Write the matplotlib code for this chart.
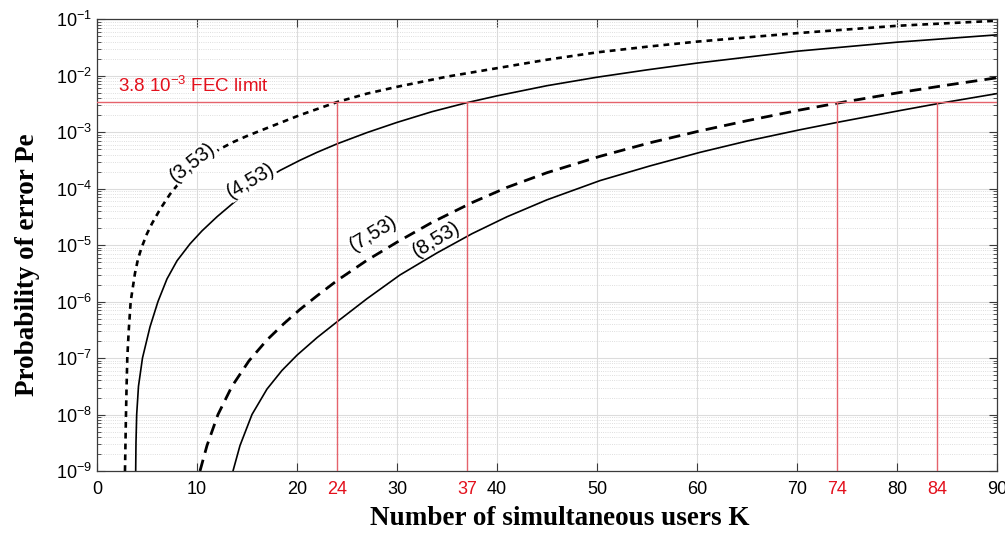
import numpy as np
import matplotlib
matplotlib.use("Agg")
import matplotlib.pyplot as plt
from matplotlib.ticker import LogLocator, NullFormatter

plt.rcParams['font.family'] = ['Liberation Sans', 'DejaVu Sans']
plt.rcParams['mathtext.fontset'] = 'custom'
plt.rcParams['mathtext.rm'] = 'Liberation Sans'
plt.rcParams['mathtext.it'] = 'Liberation Sans:italic'

# curves: users K and log10 of the probability of error
k_3_53 = [2.8, 2.85, 2.9, 2.96, 3.03, 3.18, 3.37, 3.8, 4.1, 4.45, 5.0, 5.5, 6.3, 7.3, 8.5, 10,
          12.3, 13.6, 15, 17, 20.3, 24, 27, 30, 35, 40, 45, 50, 55, 60, 70, 80, 90]
lg_3_53 = [-9, -8.5, -8, -7.5, -7, -6.5, -6, -5.5, -5.25, -5.05, -4.8, -4.62, -4.37, -4.1, -3.84, -3.56,
           -3.3, -3.18, -3.07, -2.93, -2.70, -2.47, -2.32, -2.2, -2.02, -1.87, -1.72, -1.59, -1.49, -1.40,
           -1.25, -1.12, -1.03]

k_4_53 = [3.87, 3.9, 3.97, 4.15, 4.55, 5.3, 6.1, 7.0, 8.0, 9.3, 10.5, 12, 14, 16, 18.3, 20.3, 22, 24,
          27, 30, 33.5, 37, 40, 45, 50, 55, 60, 70, 80, 90]
lg_4_53 = [-9, -8.5, -8, -7.5, -7, -6.45, -6.0, -5.6, -5.28, -4.98, -4.75, -4.5, -4.2, -3.93, -3.68,
           -3.50, -3.36, -3.21, -3.01, -2.83, -2.64, -2.48, -2.36, -2.18, -2.03, -1.9, -1.78, -1.57,
           -1.41, -1.28]

k_7_53 = [10.3, 11.0, 12.1, 13.5, 15.2, 17, 18.7, 20.3, 22, 24, 27, 30, 33.5, 37.5, 41, 45, 50.3,
          55.3, 60.3, 65, 70.3, 74, 80.3, 85, 90]
lg_7_53 = [-9, -8.55, -8.0, -7.5, -7.05, -6.68, -6.39, -6.14, -5.9, -5.63, -5.27, -4.95, -4.6, -4.25,
           -3.98, -3.72, -3.43, -3.19, -2.98, -2.8, -2.61, -2.49, -2.30, -2.17, -2.04]

k_8_53 = [13.6, 14.3, 15.5, 17, 18.5, 20, 22, 24, 27, 30.3, 34, 37.5, 41, 45, 50.3, 55.3, 60.3, 65,
          70.3, 74.3, 80.3, 84, 90]
lg_8_53 = [-9, -8.55, -8.0, -7.55, -7.22, -6.95, -6.64, -6.36, -5.95, -5.53, -5.14, -4.80, -4.5, -4.2,
           -3.86, -3.6, -3.36, -3.16, -2.96, -2.82, -2.62, -2.50, -2.32]

fec_limit = 3.4e-3          # where the red line sits in the figure
fec_users = [24, 37, 74, 84]
x_ticks = [0, 10, 20, 30, 40, 50, 60, 70, 80, 90]

# labels: text, K, Pe, angle
curve_labels = [("(3,53)", 9.6, 2.9e-4, 38),
                ("(4,53)", 15.4, 1.35e-4, 30),
                ("(7,53)", 27.6, 1.6e-5, 31),
                ("(8,53)", 33.9, 1.25e-5, 31)]

RED_LINE = '#e5636c'
RED_TEXT = '#e3101c'
SERIF = ['Liberation Serif', 'DejaVu Serif']

fig = plt.figure(figsize=(10.05, 5.33), dpi=100)
ax = fig.add_axes([0.0965, 0.1163, 0.8955, 0.848])

ax.plot(k_3_53, 10.0 ** np.array(lg_3_53), color='k', lw=1.9, linestyle=(0, (2.2, 1.9)))
ax.plot(k_4_53, 10.0 ** np.array(lg_4_53), color='k', lw=1.2)
ax.plot(k_7_53, 10.0 ** np.array(lg_7_53), color='k', lw=2.0, linestyle=(0, (4.2, 2.6)))
ax.plot(k_8_53, 10.0 ** np.array(lg_8_53), color='k', lw=1.2)

ax.axhline(fec_limit, color=RED_LINE, lw=1.0, zorder=3)
ax.vlines(fec_users, 1e-9, fec_limit, color=RED_LINE, lw=1.0, zorder=3)

for txt, kx, py, ang in curve_labels:
    ax.text(kx, py, txt, fontsize=14.5, rotation=ang, ha='center', va='center',
            rotation_mode='anchor', zorder=4,
            bbox=dict(facecolor='white', edgecolor='none', pad=0.3))

ax.text(2.1, 4.3e-3, r'3.8 10$^{-3}$ FEC limit', color=RED_TEXT, fontsize=13.5,
        ha='left', va='bottom')

ax.set_yscale('log')
ax.set_xlim(0, 90)
ax.set_ylim(1e-9, 1e-1)

ax.set_xticks(x_ticks)
ax.set_xticks(fec_users, minor=True)
ax.set_xticklabels([str(v) for v in fec_users], minor=True, color=RED_TEXT)
ax.tick_params(axis='x', which='minor', length=0, labelsize=13, pad=7)
ax.tick_params(axis='x', which='major', labelsize=13, pad=7)

ax.yaxis.set_major_locator(LogLocator(base=10, numticks=20))
ax.yaxis.set_minor_locator(LogLocator(base=10, subs=np.arange(2, 10), numticks=20))
ax.yaxis.set_minor_formatter(NullFormatter())
ax.tick_params(axis='y', which='major', labelsize=13)

ax.tick_params(which='both', direction='in', top=True, right=True, color='#3a3a3a')
ax.tick_params(which='major', length=6)
ax.tick_params(axis='y', which='minor', length=3)

ax.grid(True, which='major', axis='both', color='#dcdcdc', lw=0.8)
ax.grid(True, which='minor', axis='y', color='#d4d4d4', lw=0.6, linestyle=':')
ax.set_axisbelow(True)

for s in ax.spines.values():
    s.set_color('#3a3a3a')
    s.set_linewidth(0.9)

ax.set_xlabel('Number of simultaneous users K', fontsize=19.5, fontweight='bold', family=SERIF)
ax.set_ylabel('Probability of error Pe', fontsize=19.5, fontweight='bold', family=SERIF)
ax.xaxis.set_label_coords(0.514, -0.077)
ax.yaxis.set_label_coords(-0.063, 0.456)

fig.savefig('out.png', dpi=100)
